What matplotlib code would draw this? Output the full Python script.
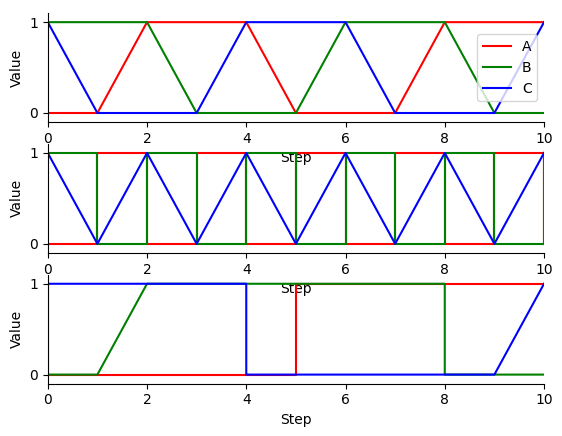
import matplotlib
matplotlib.use("Agg")
import matplotlib.pyplot as plt

# panel 1: plain triangle waves, one point per step
steps_1 = [0, 1, 2, 3, 4, 5, 6, 7, 8, 9, 10]
a_1 = [0, 0, 1, 1, 1, 0, 0, 0, 1, 1, 1]
b_1 = [1, 1, 1, 0, 0, 0, 1, 1, 1, 0, 0]
c_1 = [1, 0, 0, 0, 1, 1, 1, 0, 0, 0, 1]

# panel 2: square waves (repeated steps make the vertical jumps)
steps_2 = [0, 1, 1, 2, 2, 3, 3, 4, 4, 5, 5, 6, 6, 7, 7, 8, 8, 9, 9, 10, 10]
a_2 = [0, 0, 1, 1, 0, 0, 1, 1, 0, 0, 1, 1, 0, 0, 1, 1, 0, 0, 1, 1, 0]
b_2 = [1, 1, 0, 0, 1, 1, 0, 0, 1, 1, 0, 0, 1, 1, 0, 0, 1, 1, 0, 0, 1]
steps_2c = [0, 1, 2, 3, 4, 5, 6, 7, 8, 9, 10]
c_2 = [1, 0, 1, 0, 1, 0, 1, 0, 1, 0, 1]

# panel 3: single transitions
steps_3a = [0, 0, 5, 5, 10]
a_3 = [1, 0, 0, 1, 1]
steps_3b = [0, 1, 2, 8, 8, 10]
b_3 = [0, 0, 1, 1, 0, 0]
steps_3c = [0, 4, 4, 9, 10]
c_3 = [1, 1, 0, 0, 1]

labels = ["A", "B", "C"]
colors = ["red", "green", "blue"]

panels = [
    [(steps_1, a_1), (steps_1, b_1), (steps_1, c_1)],
    [(steps_2, a_2), (steps_2, b_2), (steps_2c, c_2)],
    [(steps_3a, a_3), (steps_3b, b_3), (steps_3c, c_3)],
]

fig, axes = plt.subplots(3, 1, figsize=(5.62, 4.36), dpi=100)
fig.subplots_adjust(left=0.085, right=0.968, top=0.97, bottom=0.12, hspace=0.2)

for i, (ax, series) in enumerate(zip(axes, panels)):
    for (x, y), lab, col in zip(series, labels, colors):
        ax.plot(x, y, color=col, label=lab)
    ax.set_xlim(0, 10)
    ax.set_ylim(-0.1, 1.1)
    ax.set_yticks([0, 1])
    ax.set_xticks([0, 2, 4, 6, 8, 10])
    ax.set_xlabel("Step")
    ax.set_ylabel("Value")
    ax.spines["top"].set_visible(False)
    ax.spines["right"].set_visible(False)
    # transparent background so the "Step" label above stays visible
    ax.patch.set_alpha(0)
    if i == 0:
        ax.legend(loc="center right")

fig.savefig("out.png")
